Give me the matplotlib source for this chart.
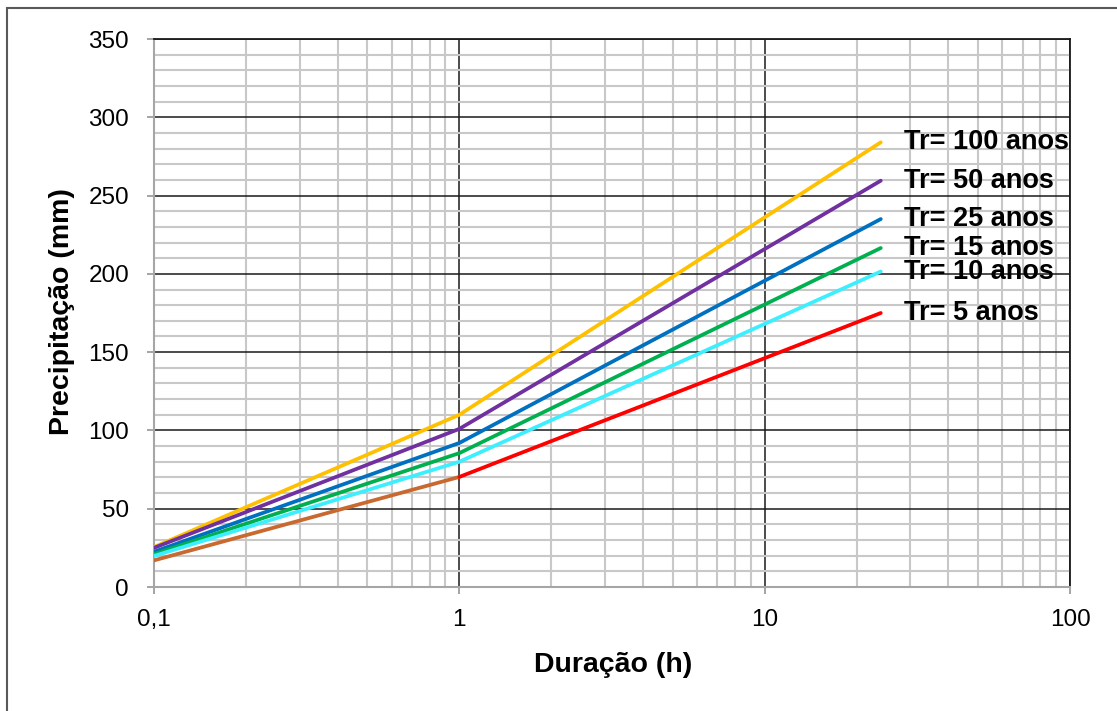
import numpy as np
import matplotlib
matplotlib.use('Agg')
import matplotlib.pyplot as plt
from matplotlib.patches import Rectangle
from matplotlib.ticker import FixedLocator, FuncFormatter, MultipleLocator

plt.rcParams['font.family'] = ['Liberation Sans', 'DejaVu Sans']

# durações (h) e precipitações (mm) por período de retorno
duracao = [0.1, 1, 24]
tr_labels = ['Tr= 100 anos', 'Tr= 50 anos', 'Tr= 25 anos',
             'Tr= 15 anos', 'Tr= 10 anos', 'Tr= 5 anos']
p_100 = [25.5, 110, 284]
p_50 = [25, 101, 259.5]
p_25 = [22.5, 92, 235]
p_15 = [21, 85.5, 216.5]
p_10 = [19.8, 80, 201.5]
p_5 = [17, 70.3, 175]
series = [p_100, p_50, p_25, p_15, p_10, p_5]
colors = ['#FFC000', '#7030A0', '#0070C0', '#00B050', '#3DEEFF', '#FF0000']
label_x = 28.5

fig = plt.figure(figsize=(11.17, 7.11), dpi=100)
ax = fig.add_axes([154 / 1117, 124 / 711, 916 / 1117, 548 / 711])

for vals, c, lab in zip(series, colors, tr_labels):
    if lab == 'Tr= 5 anos':
        # trecho inicial em outra cor
        ax.plot(duracao[:2], vals[:2], color='#C9682F', lw=2.7, solid_capstyle='round', zorder=3)
        ax.plot(duracao[1:], vals[1:], color=c, lw=2.7, solid_capstyle='round', zorder=3)
    else:
        ax.plot(duracao, vals, color=c, lw=2.7, solid_capstyle='round', zorder=3)
    ax.text(label_x, vals[-1], lab, fontsize=19.5, fontweight='bold',
            ha='left', va='center', zorder=4)

ax.set_xscale('log')
ax.set_xlim(0.1, 100)
ax.set_ylim(0, 350)
ax.xaxis.set_major_locator(FixedLocator([0.1, 1, 10, 100]))
ax.xaxis.set_minor_locator(FixedLocator(
    [m * d for d in (0.1, 1, 10) for m in range(2, 10)]))
ax.xaxis.set_major_formatter(FuncFormatter(
    lambda v, p: ('%g' % v).replace('.', ',')))
ax.yaxis.set_major_locator(MultipleLocator(50))
ax.yaxis.set_minor_locator(MultipleLocator(10))

ax.grid(which='minor', color='#c8c8c8', lw=1.5, zorder=0)
ax.grid(which='major', color='#1a1a1a', lw=1.1, zorder=1)
ax.set_axisbelow(True)

for s in ('top', 'right'):
    ax.spines[s].set_color('#1a1a1a')
    ax.spines[s].set_linewidth(1.3)
for s in ('left', 'bottom'):
    ax.spines[s].set_color('#a6a6a6')
    ax.spines[s].set_linewidth(1.5)

ax.tick_params(which='major', direction='out', length=5, width=1.1,
               color='#8c8c8c', labelsize=17.5, labelcolor='black')
ax.tick_params(axis='y', which='major', pad=13)
ax.tick_params(axis='x', which='major', pad=10.5)
ax.tick_params(which='minor', length=0)

fig.text(613 / 1117, 1 - 665 / 711, 'Duração (h)', fontsize=20.5,
         fontweight='bold', ha='center', va='center')
fig.text(62 / 1117, 1 - 312 / 711, 'Precipitação (mm)', fontsize=20.5,
         fontweight='bold', ha='center', va='center', rotation=90)

# moldura externa
fig.patches.append(Rectangle((7 / 1117, -0.1), 1.1, 1.1 - 8 / 711,
                             transform=fig.transFigure, fill=False,
                             edgecolor='#595959', lw=1.5))

fig.savefig('out.png', dpi=100)
